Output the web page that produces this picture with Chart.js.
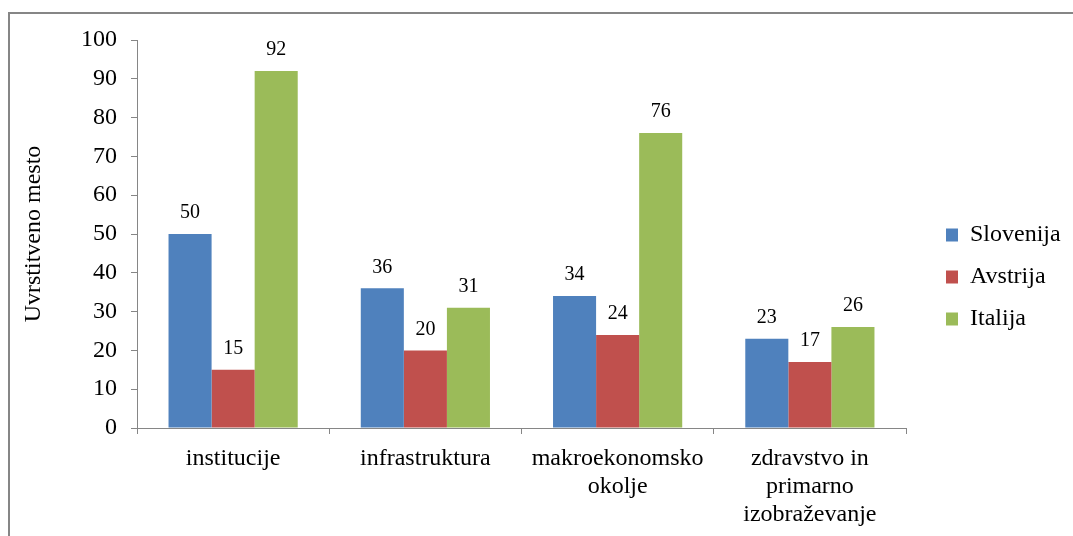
<!DOCTYPE html>
<html>
<head>
<meta charset="utf-8">
<script src="https://cdn.jsdelivr.net/npm/chart.js@4.4.1/dist/chart.umd.min.js"></script>
<style>
  html, body { margin: 0; padding: 0; background: #fff; overflow: hidden; }
  #wrap { position: relative; width: 1073px; height: 536px; }
  #frame { position: absolute; left: 8px; top: 12px; width: 1100px; height: 600px; border: 2px solid #868686; }
  #barChart { position: absolute; left: 0; top: 0; }
</style>
</head>
<body>
<div id="wrap">
  <div id="frame"></div>
  <canvas id="barChart" width="1073" height="536"></canvas>
</div>
<script>
// DATA
const categories = [
    ['institucije'],
    ['infrastruktura'],
    ['makroekonomsko', 'okolje'],
    ['zdravstvo in', 'primarno', 'izobraževanje']
];
const countries = ['Slovenija', 'Avstrija', 'Italija'];
const slovenija = [50, 36, 34, 23];
const avstrija = [15, 20, 24, 17];
const italija = [92, 31, 76, 26];
const yMin = 0;
const yMax = 100;
const yStep = 10;

const serif = '"Liberation Serif", "Times New Roman", serif';
const axisColor = '#868686';

// value labels above the bars
const barLabels = {
    id: 'barLabels',
    afterDatasetsDraw(chart) {
        const c = chart.ctx;
        c.save();
        c.font = '20px ' + serif;
        c.fillStyle = '#000';
        c.textAlign = 'center';
        c.textBaseline = 'middle';
        chart.data.datasets.forEach(function(ds, i) {
            chart.getDatasetMeta(i).data.forEach(function(bar, j) {
                c.fillText(ds.data[j], bar.x, bar.y - 21);
            });
        });
        c.restore();
    }
};

// keep a gap between plot and legend (like the excel chart)
const legendSpot = {
    id: 'legendSpot',
    beforeUpdate(chart) {
        const legend = chart.legend;
        if (!legend || legend._patched) return;
        const fit = legend.fit;
        legend.fit = function() {
            fit.call(this);
            this.width = 167;
        };
        legend._patched = true;
    },
    afterLayout(chart) {
        const legend = chart.legend;
        legend.left += 22;
        legend.right += 22;
        legend.top -= 11;
        legend.bottom -= 11;
    }
};

const ctx = document.getElementById('barChart').getContext('2d');
const barChart = new Chart(ctx, {
    type: 'bar',
    data: {
        labels: categories,
        datasets: [
            { label: countries[0], data: slovenija, backgroundColor: '#4F81BD' },
            { label: countries[1], data: avstrija, backgroundColor: '#C0504D' },
            { label: countries[2], data: italija, backgroundColor: '#9BBB59' }
        ]
    },
    options: {
        responsive: false,
        animation: false,
        layout: { padding: { top: 40, right: 0, bottom: 0, left: 0 } },
        datasets: {
            bar: { categoryPercentage: 0.672, barPercentage: 1, borderWidth: 0 }
        },
        scales: {
            x: {
                grid: { offset: true, drawOnChartArea: false, tickLength: 6, color: axisColor },
                border: { color: axisColor },
                ticks: {
                    color: '#000',
                    padding: 11,
                    maxRotation: 0,
                    font: { family: serif, size: 24, lineHeight: 1.17 }
                },
                afterFit(scale) { scale.height = 108; }
            },
            y: {
                min: yMin,
                max: yMax,
                grid: { drawOnChartArea: false, tickLength: 6, color: axisColor },
                border: { color: axisColor },
                ticks: {
                    stepSize: yStep,
                    color: '#000',
                    padding: 14,
                    font: { family: serif, size: 24 }
                },
                title: {
                    display: true,
                    text: 'Uvrstitveno mesto',
                    color: '#000',
                    padding: { top: 19, bottom: 0 },
                    font: { family: serif, size: 24 }
                },
                afterFit(scale) { scale.width = 137; }
            }
        },
        plugins: {
            legend: {
                position: 'right',
                labels: {
                    color: '#000',
                    boxWidth: 12,
                    boxHeight: 13,
                    padding: 18,
                    font: { family: serif, size: 24 }
                }
            },
            tooltip: { enabled: false }
        }
    },
    plugins: [barLabels, legendSpot]
});
</script>
</body>
</html>
